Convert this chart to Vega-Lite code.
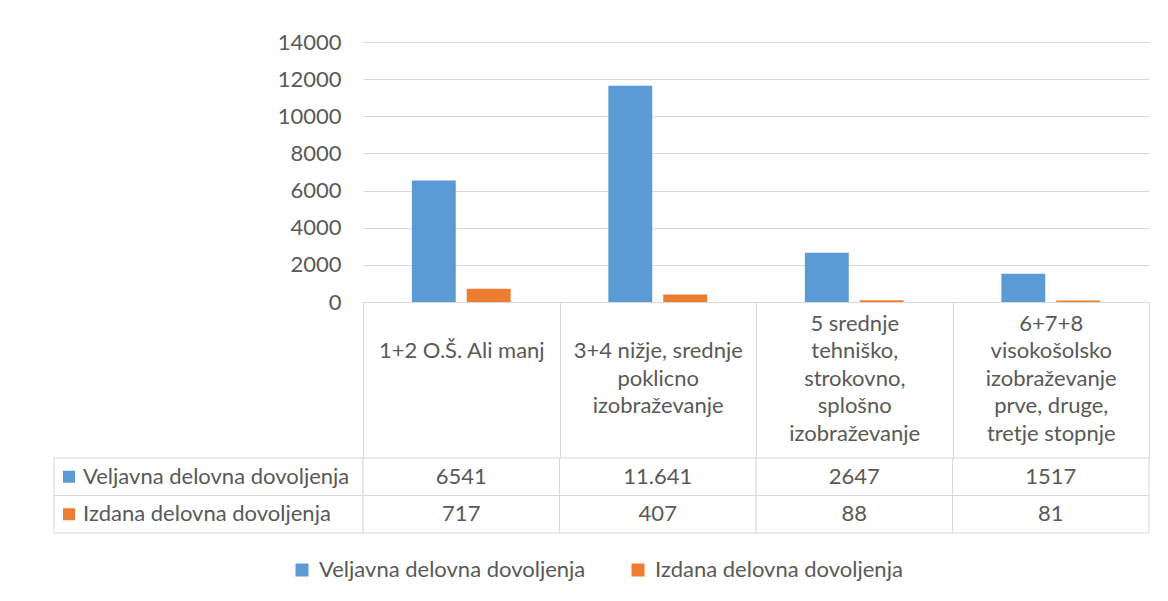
{
  "$schema": "https://vega.github.io/schema/vega-lite/v6.json",
  "background": "white",
  "padding": {"left": 53, "top": 31, "right": 20, "bottom": 20},
  "datasets": {
    "table": [
      {"category": "1+2 O.Š. Ali manj", "series": "Veljavna delovna dovoljenja", "value": 6541, "label": "6541"},
      {"category": "1+2 O.Š. Ali manj", "series": "Izdana delovna dovoljenja", "value": 717, "label": "717"},
      {"category": "3+4 nižje, srednje|poklicno|izobraževanje", "series": "Veljavna delovna dovoljenja", "value": 11641, "label": "11.641"},
      {"category": "3+4 nižje, srednje|poklicno|izobraževanje", "series": "Izdana delovna dovoljenja", "value": 407, "label": "407"},
      {"category": "5 srednje|tehniško,|strokovno,|splošno|izobraževanje", "series": "Veljavna delovna dovoljenja", "value": 2647, "label": "2647"},
      {"category": "5 srednje|tehniško,|strokovno,|splošno|izobraževanje", "series": "Izdana delovna dovoljenja", "value": 88, "label": "88"},
      {"category": "6+7+8|visokošolsko|izobraževanje|prve, druge,|tretje stopnje", "series": "Veljavna delovna dovoljenja", "value": 1517, "label": "1517"},
      {"category": "6+7+8|visokošolsko|izobraževanje|prve, druge,|tretje stopnje", "series": "Izdana delovna dovoljenja", "value": 81, "label": "81"}
    ]
  },
  "columns": 2,
  "spacing": {"row": 156, "column": 0},
  "bounds": "flush",
  "concat": [
    {
      "width": 309,
      "height": 260,
      "data": {"values": [{"s": ""}]},
      "mark": {"type": "text"},
      "encoding": {"text": {"field": "s"}}
    },
    {
      "width": 786,
      "height": 260,
      "data": {"name": "table"},
      "mark": {"type": "bar"},
      "encoding": {
        "x": {
          "field": "category",
          "type": "nominal",
          "sort": null,
          "scale": {"paddingInner": 0, "paddingOuter": 0},
          "axis": {
            "title": null,
            "domain": true,
            "domainColor": "#d9d9d9",
            "ticks": true,
            "tickBand": "extent",
            "tickSize": 156,
            "tickColor": "#d9d9d9",
            "grid": false,
            "labelExpr": "split((length(split(datum.label, '|')) == 1 ? '||' : length(split(datum.label, '|')) == 3 ? '|' : '') + datum.label, '|')",
            "labelAngle": 0,
            "labelBaseline": "middle",
            "labelPadding": -135,
            "labelLineHeight": 27.5,
            "labelFontSize": 22,
            "labelFont": "Lato",
            "labelColor": "#595959",
            "labelLimit": 0,
            "labelOverlap": false,
            "labelFlush": false
          }
        },
        "xOffset": {
          "field": "series",
          "type": "nominal",
          "sort": null,
          "scale": {"paddingInner": 0.2, "paddingOuter": 0.89}
        },
        "y": {
          "field": "value",
          "type": "quantitative",
          "scale": {"domain": [0, 14000], "nice": false},
          "axis": {
            "title": null,
            "values": [0, 2000, 4000, 6000, 8000, 10000, 12000, 14000],
            "format": "d",
            "domain": false,
            "ticks": false,
            "grid": true,
            "gridColor": "#d9d9d9",
            "gridWidth": 1,
            "labelPadding": 22,
            "labelFontSize": 22,
            "labelFont": "Lato",
            "labelColor": "#595959"
          }
        },
        "color": {
          "field": "series",
          "type": "nominal",
          "scale": {
            "domain": ["Veljavna delovna dovoljenja", "Izdana delovna dovoljenja"],
            "range": ["#5b9bd5", "#ed7d31"]
          },
          "legend": {
            "orient": "none",
            "legendX": 237,
            "legendY": 517,
            "direction": "horizontal",
            "title": null,
            "symbolType": "square",
            "symbolSize": 169,
            "symbolStrokeWidth": 0,
            "labelFontSize": 22,
            "labelFont": "Lato",
            "labelColor": "#595959",
            "labelLimit": 0,
            "labelOffset": 6,
            "columnPadding": 41,
            "padding": 0
          }
        }
      }
    },
    {
      "width": 309,
      "height": 75,
      "data": {"name": "table"},
      "transform": [{"aggregate": [{"op": "count", "as": "n"}], "groupby": ["series"]}],
      "encoding": {
        "y": {
          "field": "series",
          "type": "nominal",
          "sort": ["Veljavna delovna dovoljenja", "Izdana delovna dovoljenja"],
          "scale": {"paddingInner": 0, "paddingOuter": 0},
          "axis": null
        }
      },
      "layer": [
        {
          "mark": {"type": "rect", "fill": "white", "stroke": "#d9d9d9", "strokeWidth": 1},
          "encoding": {"x": {"value": 0}, "x2": {"value": "width"}}
        },
        {
          "mark": {"type": "point", "shape": "square", "filled": true, "size": 144, "opacity": 1},
          "encoding": {
            "x": {"value": 15},
            "color": {
              "field": "series",
              "type": "nominal",
              "scale": {
                "domain": ["Veljavna delovna dovoljenja", "Izdana delovna dovoljenja"],
                "range": ["#5b9bd5", "#ed7d31"]
              },
              "legend": null
            }
          }
        },
        {
          "mark": {"type": "text", "align": "left", "baseline": "middle", "fontSize": 22, "font": "Lato", "color": "#595959"},
          "encoding": {"x": {"value": 29}, "text": {"field": "series"}}
        }
      ]
    },
    {
      "width": 786,
      "height": 75,
      "data": {"name": "table"},
      "encoding": {
        "x": {
          "field": "category",
          "type": "nominal",
          "sort": null,
          "scale": {"paddingInner": 0, "paddingOuter": 0},
          "axis": null
        },
        "y": {
          "field": "series",
          "type": "nominal",
          "sort": null,
          "scale": {"paddingInner": 0, "paddingOuter": 0},
          "axis": null
        }
      },
      "layer": [
        {"mark": {"type": "rect", "fill": "white", "stroke": "#d9d9d9", "strokeWidth": 1}},
        {
          "mark": {"type": "text", "baseline": "middle", "fontSize": 22, "font": "Lato", "color": "#595959"},
          "encoding": {"text": {"field": "label"}}
        }
      ]
    }
  ],
  "config": {
    "view": {"stroke": null},
    "font": "Lato"
  }
}
